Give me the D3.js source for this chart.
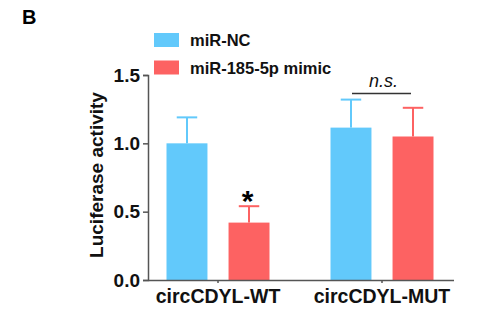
<!DOCTYPE html>
<html>
<head>
<meta charset="utf-8">
<script src="https://cdn.jsdelivr.net/npm/d3@7"></script>
<style>
  body { margin: 0; background: #fff; }
  text { font-family: "Liberation Sans", Arial, sans-serif; }
</style>
</head>
<body>
<div id="chart"></div>
<script>
// luciferase reporter data
var groups = ["circCDYL-WT", "circCDYL-MUT"];
var treatments = ["miR-NC", "miR-185-5p mimic"];
var means = [[1.00, 0.42], [1.115, 1.05]];
var errs = [[0.19, 0.12], [0.205, 0.21]];
var yTicks = [0, 0.5, 1.0, 1.5];
var colors = ["#62C9FB", "#FD6262"];

var svgWidth = 494, svgHeight = 324;

var svg = d3.select("#chart").append("svg")
  .attr("width", svgWidth)
  .attr("height", svgHeight);

// scales
var yScale = d3.scaleLinear().domain([0, 1.5]).range([280, 75]);
var xScale = d3.scaleBand().domain(groups).range([136, 464]);
var xInner = d3.scaleBand().domain(treatments).range([-51.5, 51.5]).paddingInner(0.34);

// flatten for drawing
var rows = [];
groups.forEach(function(g, i) {
  treatments.forEach(function(t, j) {
    rows.push({ group: g, treat: t, j: j, value: means[i][j], err: errs[i][j] });
  });
});

function barX(d) {
  return xScale(d.group) + xScale.bandwidth() / 2 + xInner(d.treat);
}

// error bars (drawn behind the bars)
var errG = svg.append("g");
rows.forEach(function(d) {
  var cx = barX(d) + xInner.bandwidth() / 2;
  var top = yScale(d.value + d.err);
  errG.append("line")
    .attr("x1", cx).attr("x2", cx)
    .attr("y1", yScale(d.value)).attr("y2", top)
    .attr("stroke", colors[d.j]).attr("stroke-width", 2);
  errG.append("line")
    .attr("x1", cx - xInner.bandwidth() / 4).attr("x2", cx + xInner.bandwidth() / 4)
    .attr("y1", top).attr("y2", top)
    .attr("stroke", colors[d.j]).attr("stroke-width", 2);
});

// bars
svg.append("g").selectAll("rect")
  .data(rows)
  .enter()
  .append("rect")
  .attr("x", d => barX(d))
  .attr("y", d => yScale(d.value))
  .attr("width", xInner.bandwidth())
  .attr("height", d => yScale(0) - yScale(d.value))
  .attr("fill", d => colors[d.j]);

// y axis
var yAxis = svg.append("g")
  .attr("transform", "translate(148,0)")
  .call(d3.axisLeft(yScale).tickValues(yTicks).tickFormat(d3.format(".1f")).tickSize(5).tickPadding(3));
yAxis.selectAll("text")
  .attr("font-size", "19px").attr("font-weight", "bold").attr("fill", "#111")
  .attr("font-family", "Liberation Sans, Arial, sans-serif");

// x axis
var xAxis = svg.append("g")
  .attr("transform", "translate(0,280)")
  .call(d3.axisBottom(xScale).tickSize(3).tickFormat(""));
xAxis.select(".domain").attr("d", "M148,0.5H454");

[yAxis, xAxis].forEach(function(a) {
  a.selectAll(".domain, .tick line").attr("stroke", "#555").attr("stroke-width", 1.5);
});

// group labels
svg.append("g").selectAll("text")
  .data(groups)
  .enter()
  .append("text")
  .attr("x", d => xScale(d) + xScale.bandwidth() / 2)
  .attr("y", 303)
  .attr("text-anchor", "middle")
  .attr("font-size", "19.5px")
  .attr("font-weight", "bold")
  .attr("fill", "#111")
  .text(d => d);

// y title
svg.append("text")
  .attr("transform", "translate(103,175) rotate(-90)")
  .attr("text-anchor", "middle")
  .attr("font-size", "19px")
  .attr("font-weight", "bold")
  .attr("fill", "#111")
  .text("Luciferase activity");

// panel letter
svg.append("text")
  .attr("x", 22).attr("y", 24)
  .attr("font-size", "20px")
  .attr("font-weight", "bold")
  .text("B");

// legend
var legend = svg.append("g").selectAll("g")
  .data(treatments)
  .enter()
  .append("g")
  .attr("transform", (d, i) => `translate(154, ${33 + i * 27.5})`);
legend.append("rect")
  .attr("width", 25).attr("height", 14)
  .attr("fill", (d, i) => colors[i]);
legend.append("text")
  .attr("x", 36).attr("y", 13)
  .attr("font-size", "16.5px")
  .attr("font-weight", "bold")
  .attr("fill", "#111")
  .text(d => d);

// significance marks
var wtRed = rows[1];
svg.append("text")
  .attr("x", barX(wtRed) + xInner.bandwidth() / 2 - 1.5)
  .attr("y", yScale(wtRed.value + wtRed.err) + 5)
  .attr("text-anchor", "middle")
  .attr("font-size", "30px")
  .attr("font-weight", "bold")
  .text("*");

var mutC = xScale("circCDYL-MUT") + xScale.bandwidth() / 2;
svg.append("line")
  .attr("x1", mutC - 30).attr("x2", mutC + 29)
  .attr("y1", 93.5).attr("y2", 93.5)
  .attr("stroke", "#333").attr("stroke-width", 1.5);
svg.append("text")
  .attr("x", mutC + 1.5).attr("y", 87)
  .attr("text-anchor", "middle")
  .attr("font-size", "18px")
  .attr("font-style", "italic")
  .attr("fill", "#111")
  .text("n.s.");
</script>
</body>
</html>
